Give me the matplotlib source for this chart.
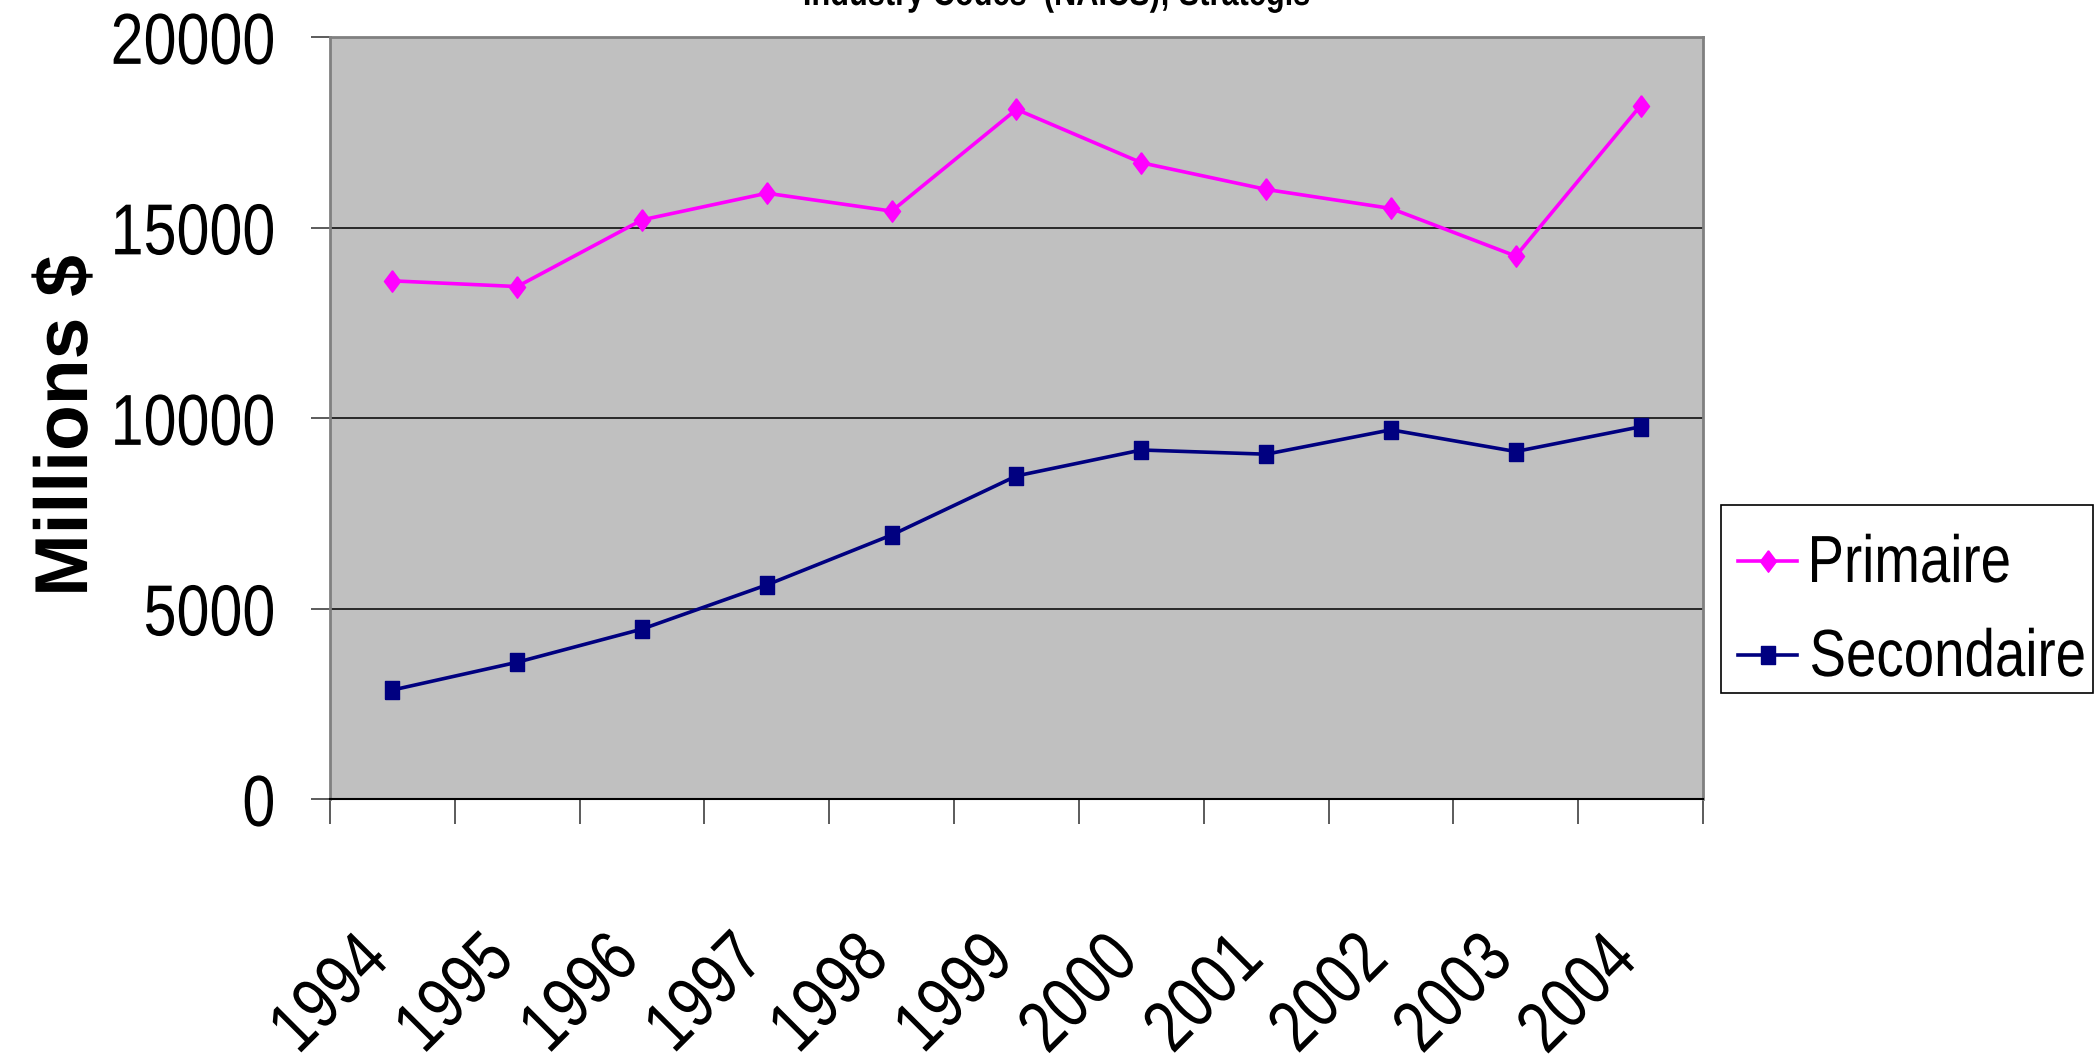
import matplotlib
matplotlib.use('Agg')
import matplotlib.pyplot as plt
from matplotlib.font_manager import FontProperties, findfont
from matplotlib.ft2font import FT2Font
from matplotlib.textpath import TextPath
from matplotlib.path import Path
from matplotlib.patches import PathPatch, Rectangle
from matplotlib.lines import Line2D
from matplotlib.transforms import Affine2D, IdentityTransform
from matplotlib.ticker import FixedLocator, NullFormatter

# données
years = ['1994', '1995', '1996', '1997', '1998', '1999',
         '2000', '2001', '2002', '2003', '2004']
primaire = [13600, 13450, 15200, 15900, 15430, 18100,
            16700, 16000, 15500, 14250, 18200]
secondaire = [2860, 3590, 4460, 5620, 6930, 8480,
              9160, 9050, 9690, 9120, 9770]
y_ticks = [0, 5000, 10000, 15000, 20000]
series_names = ['Primaire', 'Secondaire']
titre = 'Industry Codes  (NAICS); Strategis'
y_titre = 'Millions $'

W, H, DPI = 2095, 1058, 100
PINK = '#FF00FF'
NAVY = '#000080'

fig = plt.figure(figsize=(W / DPI, H / DPI), dpi=DPI)
fig.patch.set_facecolor('white')


# pas d'Arial Narrow installée : on comprime Liberation Sans (même dessin)
def build_path(s, weight, size_px, spacing):
    prop = FontProperties(family='Liberation Sans', weight=weight)
    if not spacing:
        return TextPath((0, 0), s, size=size_px, prop=prop)
    font = FT2Font(findfont(prop))
    font.set_size(size_px, 72)
    parts, xpos = [], 0.0
    for ch in s:
        if ch != ' ':
            parts.append(TextPath((xpos, 0), ch, size=size_px, prop=prop))
        xpos += font.load_char(ord(ch)).linearHoriAdvance / 65536 + spacing
    return Path.make_compound_path(*parts)


def draw_text(s, x, y, size_pt, ha='left', va='baseline', rot=0,
              weight='normal', squeeze=0.82, spacing=0, color='black'):
    size_px = size_pt * DPI / 72
    tp = build_path(s, weight, size_px, spacing)
    ext = tp.get_extents()
    dx = {'left': -ext.x0, 'center': -(ext.x0 + ext.x1) / 2, 'right': -ext.x1}[ha]
    dy = {'baseline': 0, 'bottom': -ext.y0,
          'center': -(ext.y0 + ext.y1) / 2, 'top': -ext.y1}[va]
    tr = Affine2D().translate(dx, dy).scale(squeeze, 1).rotate_deg(rot).translate(x, y)
    fig.add_artist(PathPatch(tp, transform=tr, facecolor=color,
                             edgecolor='none', lw=0))


ax = fig.add_axes([330 / W, 1 - 799 / H, 1373 / W, 762 / H])
ax.set_facecolor('#C0C0C0')

x = list(range(len(years)))

# marqueurs: losange un peu plus haut que large, carré
diamond = [(0, 1), (0.75, 0), (0, -1), (-0.75, 0), (0, 1)]
square = [(-0.42, -0.5), (0.42, -0.5), (0.42, 0.5), (-0.42, 0.5), (-0.42, -0.5)]
mk_primaire = dict(color=PINK, lw=2.6, marker=diamond, ms=15.5,
                   mec=PINK, mfc=PINK)
mk_secondaire = dict(color=NAVY, lw=2.6, marker=square, ms=12.5,
                     mec=NAVY, mfc=NAVY)

ax.plot(x, primaire, zorder=3, **mk_primaire)
ax.plot(x, secondaire, zorder=3, **mk_secondaire)

ax.set_xlim(-0.5, len(years) - 0.5)
ax.set_ylim(0, 20000)

# grille horizontale
ax.set_yticks(y_ticks)
ax.yaxis.grid(True, color='black', lw=1.1)
ax.set_axisbelow(True)
ax.yaxis.set_major_formatter(NullFormatter())
ax.tick_params(axis='y', direction='out', length=14, width=1.2, color='#404040')

# axe des catégories : graduations entre les années
ax.xaxis.set_major_locator(FixedLocator(x))
ax.xaxis.set_major_formatter(NullFormatter())
ax.tick_params(axis='x', which='major', length=0)
ax.xaxis.set_minor_locator(FixedLocator([i - 0.5 for i in range(len(years) + 1)]))
ax.xaxis.set_minor_formatter(NullFormatter())
ax.tick_params(axis='x', which='minor', direction='out', length=18,
               width=1.2, color='#404040')

for side in ['top', 'right', 'left']:
    ax.spines[side].set_color('#808080')
    ax.spines[side].set_linewidth(2)
ax.spines['bottom'].set_color('black')
ax.spines['bottom'].set_linewidth(1.5)

# étiquettes des axes (police étroite)
for v in y_ticks:
    px, py = ax.transData.transform((-0.5, v))
    draw_text(str(v), px - 57, py - 2, 52, ha='right', va='center')

for i, lab in enumerate(years):
    px, py = ax.transData.transform((i, 0))
    draw_text(lab, px - 38, py - 129, 52, ha='right', va='top', rot=45)

# titre coupé en haut de l'image
draw_text(titre, 1057, H - 5, 27, ha='center', va='baseline', weight='bold')

# titre de l'axe Y
draw_text(y_titre, 62, H - 424, 54, ha='center', va='center', rot=90,
          weight='bold', squeeze=1.0)

# légende
fig.add_artist(Rectangle((1721, H - 693), 372, 188, transform=IdentityTransform(),
                         facecolor='white', edgecolor='black', lw=1.2))
for name, style, yrow in [(series_names[0], mk_primaire, H - 561),
                          (series_names[1], mk_secondaire, H - 655)]:
    line_style = {k: v for k, v in style.items() if k not in ('marker', 'ms', 'mec', 'mfc')}
    fig.add_artist(Line2D([1738, 1797], [yrow, yrow], transform=IdentityTransform(),
                          **line_style))
    fig.add_artist(Line2D([1767.5], [yrow], transform=IdentityTransform(),
                          ls='none', marker=style['marker'], ms=style['ms'],
                          mec=style['mec'], mfc=style['mfc']))
    draw_text(name, 1812, yrow - 21, 48, ha='left', va='baseline')

fig.savefig('out.png', dpi=DPI)
